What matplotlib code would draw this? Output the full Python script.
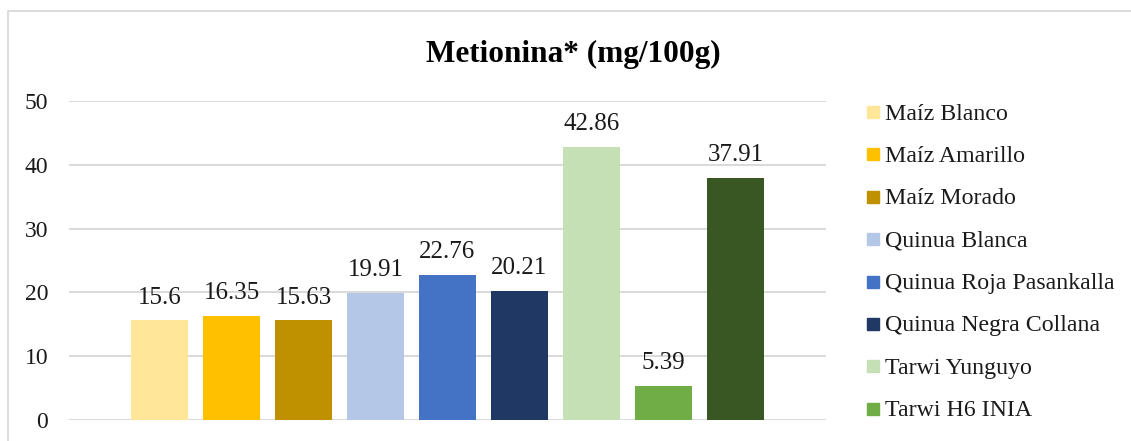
import matplotlib
matplotlib.use("Agg")
import matplotlib.pyplot as plt
from matplotlib.patches import Rectangle

plt.rcParams['font.family'] = ['Liberation Serif', 'DejaVu Serif']

categories = ["Maíz Blanco", "Maíz Amarillo", "Maíz Morado", "Quinua Blanca",
              "Quinua Roja Pasankalla", "Quinua Negra Collana", "Tarwi Yunguyo",
              "Tarwi H6 INIA", "Tarwi Andenes"]
values = [15.6, 16.35, 15.63, 19.91, 22.76, 20.21, 42.86, 5.39, 37.91]
colors = ["#FFE699", "#FFC000", "#BF9000", "#B4C7E7", "#4472C4",
          "#203864", "#C5E0B4", "#70AD47", "#385723"]
yticks = [0, 10, 20, 30, 40, 50]
title = "Metionina* (mg/100g)"

W, H = 1131, 441
fig = plt.figure(figsize=(W / 100, H / 100), dpi=100)

def fx(px):
    return px / W

def fy(py):
    return 1 - py / H

# outer chart frame (extends past the right and bottom edges)
fig.patches.append(Rectangle((fx(7.5), fy(460)), fx(1200), fy(10.5) - fy(460),
                             transform=fig.transFigure, fill=False,
                             edgecolor="#D9D9D9", linewidth=1.3))

ax = fig.add_axes([fx(69), fy(420), fx(826) - fx(69), fy(101) - fy(420)])
x = list(range(len(values)))
bars = ax.bar(x, values, width=0.79, color=colors, zorder=3)
ax.set_xlim(-1.257, len(values) - 1 + 1.257)
ax.set_ylim(0, 50)
ax.set_yticks(yticks)
ax.set_yticklabels([str(t) for t in yticks], fontsize=17, color="#1a1a1a")
ax.set_xticks([])
ax.tick_params(axis='y', length=0, pad=15)
ax.grid(axis='y', color="#D9D9D9", linewidth=1.4, zorder=0)
for s in ax.spines.values():
    s.set_visible(False)

for b, v in zip(bars, values):
    ax.annotate(f"{v:g}", (b.get_x() + b.get_width() / 2, v),
                xytext=(0, 12), textcoords="offset points",
                ha="center", va="baseline", fontsize=18, color="#1a1a1a")

fig.text(fx(573), fy(62), title, ha="center", va="baseline",
         fontsize=22.5, fontweight="bold")

# legend entries; rows that fall below the frame are left out
for i, (lab, c) in enumerate(zip(categories, colors)):
    yc = 112 + 42.4 * i
    if yc + 6 > H:
        continue
    fig.patches.append(Rectangle((fx(867), fy(yc + 6)), fx(12), fy(yc - 6) - fy(yc + 6),
                                 transform=fig.transFigure, color=c))
    fig.text(fx(885), fy(yc + 7.5), lab, ha="left", va="baseline", fontsize=17.2,
             color="#1a1a1a")

fig.savefig("out.png", dpi=100)
